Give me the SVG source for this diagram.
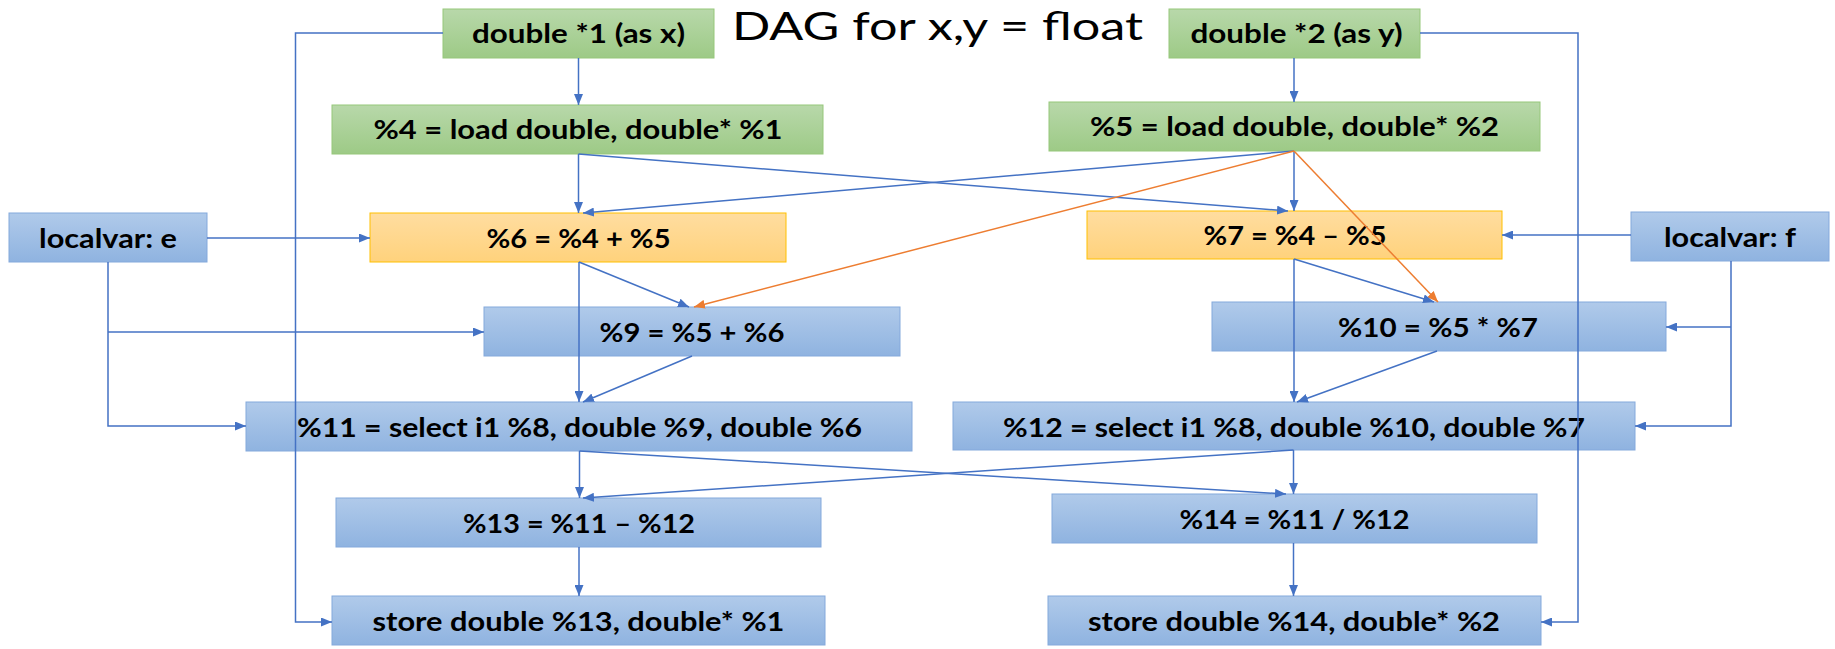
<svg xmlns="http://www.w3.org/2000/svg" width="1835" height="649" viewBox="0 0 1835 649">
<style>
.lbl{font-family:Lato,"Open Sans","Liberation Sans",sans-serif;font-weight:700;font-size:27px;fill:#000;text-anchor:middle}
.title{font-family:Lato,"Open Sans","Liberation Sans",sans-serif;font-weight:400;font-size:38px;fill:#000}
.g{fill:url(#gG);stroke:#96c77a;stroke-width:1}
.o{fill:url(#gO);stroke:#ffc000;stroke-width:1}
.b{fill:url(#gB);stroke:#84a9dc;stroke-width:1}
.c{fill:none;stroke:#4472c4;stroke-width:1.5;marker-end:url(#aB)}
.co{fill:none;stroke:#ed7d31;stroke-width:1.5;marker-end:url(#aO)}
</style>
<defs>
<linearGradient id="gG" x1="0" y1="0" x2="0" y2="1"><stop offset="0" stop-color="#b8d8aa"/><stop offset="1" stop-color="#9dca86"/></linearGradient>
<linearGradient id="gO" x1="0" y1="0" x2="0" y2="1"><stop offset="0" stop-color="#ffdda0"/><stop offset="1" stop-color="#ffd27c"/></linearGradient>
<linearGradient id="gB" x1="0" y1="0" x2="0" y2="1"><stop offset="0" stop-color="#b0caea"/><stop offset="1" stop-color="#8fb3e0"/></linearGradient>
<marker id="aB" markerUnits="userSpaceOnUse" markerWidth="11" markerHeight="9" refX="11" refY="4.5" orient="auto"><path d="M0,0 L11,4.5 L0,9 z" fill="#4472c4"/></marker>
<marker id="aO" markerUnits="userSpaceOnUse" markerWidth="11" markerHeight="9" refX="11" refY="4.5" orient="auto"><path d="M0,0 L11,4.5 L0,9 z" fill="#ed7d31"/></marker>
</defs>
<rect width="1835" height="649" fill="#fff"/>
<text class="title" x="732" y="40" textLength="411" lengthAdjust="spacingAndGlyphs">DAG for x,y = float</text>

<g id="n_d1"><rect class="g" x="443" y="9" width="271" height="49"/><text class="lbl" x="578.5" y="43" textLength="213" lengthAdjust="spacingAndGlyphs">double *1 (as x)</text></g>
<g id="n_d2"><rect class="g" x="1169" y="9" width="251" height="49"/><text class="lbl" x="1296.5" y="43" textLength="212" lengthAdjust="spacingAndGlyphs">double *2 (as y)</text></g>
<g id="n4"><rect class="g" x="332" y="105" width="491" height="49"/><text class="lbl" x="578" y="139" textLength="409" lengthAdjust="spacingAndGlyphs">%4 = load double, double* %1</text></g>
<g id="n5"><rect class="g" x="1049" y="102" width="491" height="49"/><text class="lbl" x="1294.5" y="136" textLength="409" lengthAdjust="spacingAndGlyphs">%5 = load double, double* %2</text></g>
<g id="ne"><rect class="b" x="9" y="213" width="198" height="49"/><text class="lbl" x="108" y="248" textLength="138" lengthAdjust="spacingAndGlyphs">localvar: e</text></g>
<g id="n6"><rect class="o" x="370" y="213" width="416" height="49"/><text class="lbl" x="578.5" y="248" textLength="184" lengthAdjust="spacingAndGlyphs">%6 = %4 + %5</text></g>
<g id="n7"><rect class="o" x="1087" y="211" width="415" height="48"/><text class="lbl" x="1295" y="245" textLength="183" lengthAdjust="spacingAndGlyphs">%7 = %4 – %5</text></g>
<g id="nf"><rect class="b" x="1631" y="212" width="198" height="49"/><text class="lbl" x="1730" y="247" textLength="132" lengthAdjust="spacingAndGlyphs">localvar: f</text></g>
<g id="n9"><rect class="b" x="484" y="307" width="416" height="49"/><text class="lbl" x="692" y="342" textLength="185" lengthAdjust="spacingAndGlyphs">%9 = %5 + %6</text></g>
<g id="n10"><rect class="b" x="1212" y="302" width="454" height="49"/><text class="lbl" x="1438" y="337" textLength="200" lengthAdjust="spacingAndGlyphs">%10 = %5 * %7</text></g>
<g id="n11"><rect class="b" x="246" y="402" width="666" height="49"/><text class="lbl" x="579.5" y="437" textLength="565" lengthAdjust="spacingAndGlyphs">%11 = select i1 %8, double %9, double %6</text></g>
<g id="n12"><rect class="b" x="953" y="402" width="682" height="48"/><text class="lbl" x="1294" y="437" textLength="582" lengthAdjust="spacingAndGlyphs">%12 = select i1 %8, double %10, double %7</text></g>
<g id="n13"><rect class="b" x="336" y="498" width="485" height="49"/><text class="lbl" x="579" y="533" textLength="232" lengthAdjust="spacingAndGlyphs">%13 = %11 – %12</text></g>
<g id="n14"><rect class="b" x="1052" y="494" width="485" height="49"/><text class="lbl" x="1294.5" y="529" textLength="230" lengthAdjust="spacingAndGlyphs">%14 = %11 / %12</text></g>
<g id="s1"><rect class="b" x="332" y="596" width="493" height="49"/><text class="lbl" x="578.5" y="631" textLength="412" lengthAdjust="spacingAndGlyphs">store double %13, double* %1</text></g>
<g id="s2"><rect class="b" x="1048" y="596" width="493" height="49"/><text class="lbl" x="1294" y="631" textLength="412" lengthAdjust="spacingAndGlyphs">store double %14, double* %2</text></g>

<g id="connectors">
<path class="c" d="M443,33 H295.5 V622 H332"/>
<path class="c" d="M578.5,58 V105"/>
<path class="c" d="M1420,33 H1578 V622 H1541"/>
<path class="c" d="M1294,58 V102"/>
<path class="c" d="M578.5,154 V213"/>
<path class="c" d="M578.5,154 L1288,211"/>
<path class="c" d="M1294,151 L583,213"/>
<path class="c" d="M1294,151 V211"/>
<path class="co" d="M1294,151 L694,307"/>
<path class="co" d="M1294,151 L1438,302"/>
<path class="c" d="M207,238 H370"/>
<path class="c" d="M108,262 V426 H246"/>
<path class="c" d="M108,332 H484"/>
<path class="c" d="M1631,235 H1502"/>
<path class="c" d="M1731,261 V426 H1635"/>
<path class="c" d="M1731,327 H1666"/>
<path class="c" d="M579,262 L689,307"/>
<path class="c" d="M579,262 V402"/>
<path class="c" d="M692,356 L583,402"/>
<path class="c" d="M1294,259 L1434,302"/>
<path class="c" d="M1294,259 V402"/>
<path class="c" d="M1437,351 L1297,402"/>
<path class="c" d="M579.5,451 V498"/>
<path class="c" d="M579.5,451 L1286,494"/>
<path class="c" d="M1293.5,450 L583,498"/>
<path class="c" d="M1293.5,450 V494"/>
<path class="c" d="M579,547 V596"/>
<path class="c" d="M1293.5,543 V596"/>
</g>
</svg>
